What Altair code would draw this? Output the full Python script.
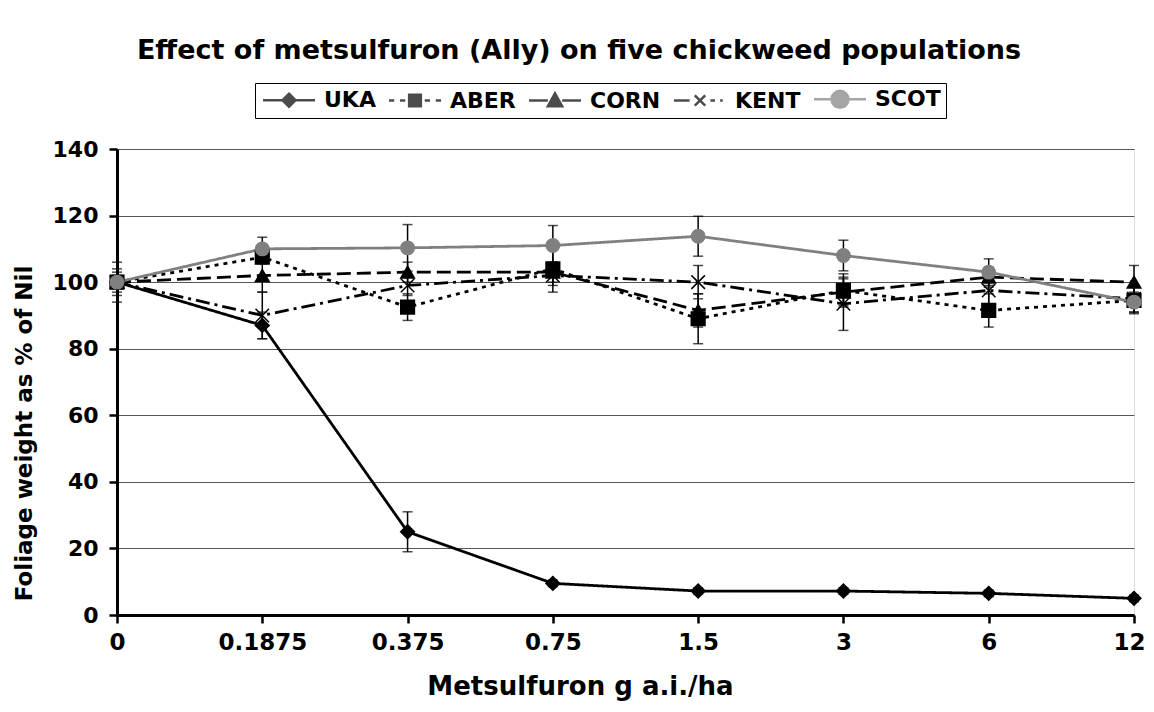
import altair as alt
import pandas as pd

doses = ["0", "0.1875", "0.375", "0.75", "1.5", "3", "6", "12"]
series_names = ["UKA", "ABER", "CORN", "KENT", "SCOT"]

uka = [100, 87, 25, 9.5, 7.2, 7.2, 6.5, 5]
uka_err = [2, 4, 6, 1, 1, 1, 1, 1]
aber = [100, 107.5, 92.5, 104, 89, 97.5, 91.5, 94.5]
aber_err = [3, 2, 4, 7, 7.5, 5, 5, 4]
corn = [100, 102, 103, 103, 91.5, 97, 101.5, 100]
corn_err = [6, 5, 3, 3, 5, 4, 3, 5]
kent = [100, 90, 99, 102, 100, 93.5, 97.5, 95]
kent_err = [4, 7, 3, 3, 5, 8, 6, 4]
scot = [100, 110, 110.3, 111, 113.8, 108, 103, 94]
scot_err = [2, 3.5, 7, 6, 6, 4.6, 4, 3]

series_vals = [uka, aber, corn, kent, scot]
series_errs = [uka_err, aber_err, corn_err, kent_err, scot_err]

colors = ["black", "black", "black", "black", "#808080"]
dashes = [[1, 0], [4, 5], [14, 6], [14, 5, 3, 5], [1, 0]]
shapes = ["diamond", "square", "triangle-up", "M-1,-1L1,1M-1,1L1,-1", "circle"]
sizes = [190, 180, 210, 110, 330]
legend_paths = [
    "M-4,0L-1,0M1,0L4,0M0,-1L1,0L0,1L-1,0Z",
    "M-4,0L-3.2,0M-2.3,0L-1.5,0M1.5,0L2.3,0M3.2,0L4,0M-0.9,-0.9L0.9,-0.9L0.9,0.9L-0.9,0.9Z",
    "M-4,0L-1.1,0M1.1,0L4,0M0,-1.1L1.1,0.9L-1.1,0.9Z",
    "M-4,0L-1.6,0M1.6,0L2.3,0M3.1,0L3.5,0M-0.8,-0.8L0.8,0.8M-0.8,0.8L0.8,-0.8",
    "M-4,0L-1.3,0M1.3,0L4,0M1.3,0A1.3,1.3 0 1,1 -1.3,0A1.3,1.3 0 1,1 1.3,0Z",
]

rows = []
for name, vals, errs in zip(series_names, series_vals, series_errs):
    for d, v, e in zip(doses, vals, errs):
        rows.append({"series": name, "dose": d, "value": v, "lo": v - e, "hi": v + e})
df = pd.DataFrame(rows)

FONT = "DejaVu Sans"

x_enc = alt.X(
    "dose:N",
    sort=doses,
    scale=alt.Scale(type="point", padding=0),
    axis=alt.Axis(
        title="Metsulfuron g a.i./ha",
        labelAngle=0,
        labelFont=FONT, labelFontSize=23, labelFontWeight="bold", labelColor="black",
        labelPadding=8,
        labelOffset=alt.condition("datum.value == '12'", alt.value(-5), alt.value(0)),
        titleFont=FONT, titleFontSize=26, titleFontWeight="bold", titleColor="black",
        titlePadding=19, titleX=463, titleAlign="center",
        domainColor="black", domainWidth=3,
        tickColor="black", tickWidth=2.5, tickSize=8,
        grid=False,
    ),
)
y_enc = alt.Y(
    "value:Q",
    scale=alt.Scale(domain=[0, 140], nice=False, zero=True),
    axis=alt.Axis(
        title="Foliage weight as % of Nil",
        values=[0, 20, 40, 60, 80, 100, 120, 140],
        labelFont=FONT, labelFontSize=22, labelFontWeight="bold", labelColor="black",
        labelPadding=11,
        titleFont=FONT, titleFontSize=23, titleFontWeight="bold", titleColor="black",
        titlePadding=16, titleY=284, titleAlign="center",
        domainColor="black", domainWidth=3,
        tickColor="black", tickWidth=2.5, tickSize=8,
        grid=True, gridColor="#555555", gridWidth=1,
    ),
)

color_scale = alt.Scale(domain=series_names, range=colors)
yscale = alt.Scale(domain=[0, 140], nice=False)

base = alt.Chart(df)

err_rule = base.mark_rule(color="black", strokeWidth=1.5).encode(
    x=x_enc, y=alt.Y("lo:Q", scale=yscale), y2="hi:Q"
)
err_lo = base.mark_tick(color="black", thickness=1.5, size=10).encode(
    x=x_enc, y=alt.Y("lo:Q", scale=yscale)
)
err_hi = base.mark_tick(color="black", thickness=1.5, size=10).encode(
    x=x_enc, y=alt.Y("hi:Q", scale=yscale)
)

lines = base.mark_line(strokeWidth=2.8).encode(
    x=x_enc,
    y=y_enc,
    color=alt.Color("series:N", scale=color_scale, legend=None),
    strokeDash=alt.StrokeDash("series:N", scale=alt.Scale(domain=series_names, range=dashes), legend=None),
)

points = base.mark_point(filled=True, opacity=1, strokeWidth=1.5).encode(
    x=x_enc,
    y=y_enc,
    color=alt.Color("series:N", scale=color_scale, legend=None),
    stroke=alt.Stroke("series:N", scale=color_scale, legend=None),
    shape=alt.Shape("series:N", scale=alt.Scale(domain=series_names, range=shapes), legend=None),
    size=alt.Size("series:N", scale=alt.Scale(domain=series_names, range=sizes), legend=None),
)

leg = alt.Legend(
    orient="none", legendX=138, legendY=-66, direction="horizontal", title=None,
    labelFont=FONT, labelFontSize=22, labelFontWeight="bold", labelColor="black",
    symbolSize=169, symbolStrokeWidth=2.5, symbolOffset=18, labelOffset=24,
    columnPadding=8, strokeColor="black", padding=5,
)
legend_layer = base.transform_filter("datum.value < -1000").mark_point(filled=True).encode(
    x=x_enc,
    y=y_enc,
    color=alt.Color("series:N", scale=color_scale, legend=leg),
    stroke=alt.Stroke("series:N", scale=color_scale, legend=leg),
    shape=alt.Shape("series:N", scale=alt.Scale(domain=series_names, range=legend_paths), legend=leg),
)

chart = (
    alt.layer(err_rule, err_lo, err_hi, lines, points, legend_layer)
    .resolve_scale(color="independent", shape="independent", stroke="independent", size="independent", strokeDash="independent")
    .properties(
        width=1017,
        height=466,
        autosize=alt.AutoSizeParams(type="none"),
        padding={"left": 109, "top": 141, "right": 12, "bottom": 89},
        title=alt.TitleParams(
            "Effect of metsulfuron (Ally) on five chickweed populations",
            font=FONT, fontSize=27, fontWeight="bold", color="black",
            anchor="middle", frame="bounds", offset=18,
        ),
    )
    .configure_view(stroke="#808080", strokeWidth=1.5)
    .configure(background="white")
)

chart.save("out.html", embed_options={"renderer": "svg", "actions": False})
